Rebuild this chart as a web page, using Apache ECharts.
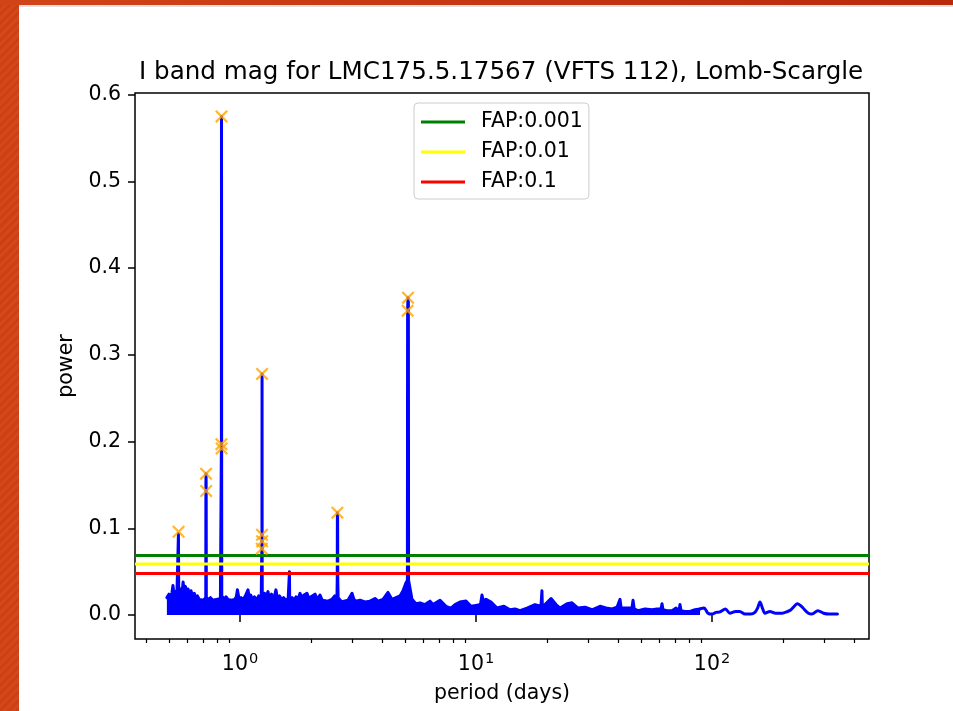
<!DOCTYPE html>
<html>
<head>
<meta charset="utf-8">
<script src="https://cdn.jsdelivr.net/npm/echarts@6/dist/echarts.min.js"></script>
<style>
html,body{margin:0;padding:0;width:953px;height:711px;overflow:hidden;}
body{background:repeating-linear-gradient(135deg,#d3471b 0px,#d3471b 3px,#cb4014 3px,#cb4014 6px);}
#topband{position:absolute;left:0;top:0;width:953px;height:5px;background:linear-gradient(90deg,#d04518,#b82a0c);}
#paper{position:absolute;left:19px;top:5px;width:934px;height:706px;background:#fff;border-top:2px solid #e0e0e0;box-sizing:border-box;}
#chart{position:absolute;left:0;top:0;width:953px;height:711px;}
</style>
</head>
<body>
<div id="topband"></div>
<div id="paper"></div>
<div id="chart"></div>
<script>
// ---------- data ----------
const chartTitle = 'I band mag for LMC175.5.17567 (VFTS 112), Lomb-Scargle';
const xName = 'period (days)';
const yName = 'power';

// dense part of the periodogram (period in days, power)
const densePeriod = [
  0.490,0.500,0.508,0.515,0.520,0.526,0.533,0.540,0.546,0.548,
  0.5485,0.5495,0.550,0.552,0.560,0.568,0.574,0.580,0.587,0.595,
  0.602,0.612,0.620,0.630,0.640,0.650,0.660,0.672,0.685,0.700,
  0.712,0.716,0.717,0.718,0.719,0.720,0.724,0.735,0.750,0.765,
  0.780,0.795,0.810,0.826,0.833,0.834,0.835,0.836,0.837,0.844,
  0.858,0.872,0.889,0.905,0.920,0.935,0.950,0.965,0.975,0.990,
  1.010,1.030,1.050,1.070,1.081,1.095,1.110,1.130,1.150,1.170,
  1.200,1.230,1.236,1.237,1.239,1.240,1.241,1.243,1.250,1.270,
  1.290,1.314,1.330,1.360,1.380,1.400,1.420,1.440,1.470,1.500,
  1.530,1.560,1.600,1.618,1.620,1.622,1.624,1.640,1.660,1.700,
  1.727,1.760,1.796,1.830,1.867,1.922,1.960,2.000,2.079,2.130,
  2.183,2.230,2.270,2.360,2.450,2.520,2.575,2.582,2.586,2.592,
  2.596,2.605,2.653,2.700,2.759,2.800,2.869,2.983,3.040,3.101,
  3.225,3.386,3.554,3.733,3.844,4.036,4.238,4.406,4.581,4.764,
  4.905,5.050,5.120,5.130,5.151,5.170,5.180,5.260,5.356,5.570,
  5.791,6.080,6.384,6.570,7.040,7.460,7.830,8.150,8.550,9.070,
  9.520,10.00,10.45,10.60,10.75,11.03,11.58,12.27,13.14,13.94,
  14.63,15.36,16.45,17.78,18.85,19.00,19.03,19.07,19.10,19.61,
  20.79,21.83,22.70,24.30,25.51,27.05,28.96,31.00,33.53,35.55,
  37.70,39.58,40.30,40.76,41.20,43.20,45.80,46.28,46.80,48.58,
  52.00,55.70,58.50,60.80,61.41,62.00,64.50,67.70,70.40,72.50,
  73.17,73.90,76.80,80.70,84.70,88.96
];
const densePower = [
  0.020,0.024,0.018,0.026,0.034,0.022,0.027,0.020,0.022,0.022,
  0.094,0.096,0.030,0.024,0.030,0.025,0.038,0.027,0.033,0.025,
  0.030,0.024,0.028,0.021,0.025,0.019,0.022,0.018,0.020,0.017,
  0.019,0.020,0.150,0.163,0.143,0.020,0.020,0.018,0.020,0.017,
  0.019,0.018,0.020,0.019,0.020,0.197,0.575,0.192,0.022,0.022,
  0.018,0.021,0.018,0.020,0.017,0.019,0.018,0.021,0.029,0.019,
  0.020,0.018,0.021,0.019,0.029,0.020,0.023,0.018,0.021,0.017,
  0.022,0.019,0.019,0.0765,0.0925,0.278,0.085,0.021,0.021,0.025,
  0.020,0.027,0.020,0.024,0.019,0.022,0.029,0.019,0.022,0.018,
  0.020,0.017,0.019,0.018,0.050,0.048,0.018,0.018,0.020,0.017,
  0.021,0.018,0.025,0.020,0.023,0.025,0.019,0.021,0.024,0.018,
  0.023,0.017,0.019,0.016,0.018,0.022,0.020,0.040,0.118,0.115,
  0.040,0.020,0.020,0.015,0.016,0.014,0.017,0.025,0.018,0.016,
  0.017,0.015,0.016,0.019,0.016,0.018,0.026,0.018,0.020,0.022,
  0.028,0.037,0.040,0.351,0.366,0.360,0.040,0.030,0.018,0.013,
  0.014,0.012,0.016,0.012,0.017,0.010,0.008,0.012,0.015,0.016,
  0.010,0.011,0.012,0.023,0.016,0.018,0.015,0.008,0.010,0.006,
  0.007,0.005,0.008,0.012,0.010,0.010,0.028,0.027,0.010,0.012,
  0.019,0.012,0.008,0.013,0.014,0.008,0.009,0.006,0.010,0.008,
  0.007,0.009,0.008,0.018,0.008,0.008,0.008,0.017,0.007,0.005,
  0.007,0.006,0.007,0.007,0.013,0.006,0.005,0.005,0.008,0.005,
  0.012,0.005,0.004,0.004,0.006,0.007
];

// long-period tail of the periodogram
const tailPeriod = [88.96,92.5,96.2,100,104,108.1,114,119,126,131,
  138,146,152,156,159.7,164,167.7,176,186,198,
  209,216,223,230,237,243,256,265,281,297,313,340];
const tailPower = [0.007,0.008,0.002,0.001,0.003,0.0035,0.007,0.002,0.004,0.004,
  0.001,0.001,0.003,0.008,0.015,0.007,0.002,0.004,0.002,0.002,
  0.004,0.006,0.010,0.013,0.011,0.008,0.002,0.001,0.005,0.002,0.001,0.001];

// detected peaks (orange x markers)
const peakPeriod = [0.5495,0.718,0.719,0.835,0.834,0.836,1.240,1.239,1.241,1.237,2.586,5.151,5.130];
const peakPower  = [0.096,0.163,0.143,0.575,0.197,0.192,0.278,0.0925,0.085,0.0765,0.118,0.366,0.351];

// false alarm probability levels
const fapNames  = ['FAP:0.001','FAP:0.01','FAP:0.1'];
const fapLevels = [0.0686,0.0587,0.0478];

// axes
const xMin = 0.359, xMax = 462.6;
const yMin = -0.0277, yMax = 0.602;
const xMajorTicks = [1,10,100];
const xMinorTicks = [0.4,0.5,0.6,0.7,0.8,0.9,2,3,4,5,6,7,8,9,20,30,40,50,60,70,80,90,200,300,400];
const yTicks = [0,0.1,0.2,0.3,0.4,0.5,0.6];

// ---------- styles ----------
const FONT = 'DejaVu Sans';
const fapColors = ['#008000','#ffff00','#ff0000'];
const BLUE = '#0000ff';
const ORANGE = '#ffa500';
const X_PATH = 'path://M0,1.2L1.2,0L5,3.8L8.8,0L10,1.2L6.2,5L10,8.8L8.8,10L5,6.2L1.2,10L0,8.8L3.8,5Z';

const zip = (a,b) => a.map((v,i)=>[v,b[i]]);

const chart = echarts.init(document.getElementById('chart'), null, {renderer:'canvas'});

const series = [
  {
    type:'line', name:'dense', data: zip(densePeriod,densePower),
    symbol:'none', z:2, silent:true,
    lineStyle:{color:BLUE,width:3,join:'round',cap:'round'},
    areaStyle:{color:BLUE,opacity:1}
  },
  {
    type:'line', name:'tail', data: zip(tailPeriod,tailPower),
    symbol:'none', z:2, smooth:0.3, silent:true,
    lineStyle:{color:BLUE,width:3,join:'round',cap:'round'}
  }
];
fapNames.forEach((n,i)=>{
  series.push({
    type:'line', name:n, data:[[xMin,fapLevels[i]],[xMax,fapLevels[i]]],
    symbol:'none', z:3, silent:true, color:fapColors[i],
    lineStyle:{color:fapColors[i],width:3}
  });
});
series.push({
  type:'scatter', name:'peaks', data: zip(peakPeriod,peakPower),
  symbol:X_PATH, symbolSize:13, z:5, silent:true,
  itemStyle:{color:ORANGE}
});

const option = {
  animation:false,
  textStyle:{fontFamily:FONT},
  title:{
    text:chartTitle, left:139, top:60, padding:0,
    textStyle:{fontFamily:FONT,fontSize:24.6,fontWeight:'normal',color:'#000'}
  },
  legend:{
    data:fapNames, orient:'vertical', left:414, top:103,
    padding:[7,6,5,7], itemWidth:44, itemHeight:3, itemGap:6, icon:'rect',
    selectedMode:false,
    backgroundColor:'rgba(255,255,255,0.8)', borderColor:'#cccccc', borderWidth:1, borderRadius:4,
    textStyle:{fontFamily:FONT,fontSize:20.5,color:'#000',lineHeight:24,padding:[0,0,0,11]}
  },
  grid:{left:135,right:84,top:93,bottom:72,show:true,borderColor:'#000',borderWidth:1.5,backgroundColor:'transparent'},
  xAxis:[
    {
      type:'log', logBase:10, min:xMin, max:xMax, position:'bottom',
      axisLine:{show:false}, splitLine:{show:false},
      axisTick:{show:true, customValues:xMajorTicks, length:7, lineStyle:{color:'#000',width:1.5}},
      axisLabel:{
        customValues:xMajorTicks, margin:13, color:'#000',
        formatter:(v)=>'{b|10}{s|' + Math.round(Math.log10(v)) + '}',
        rich:{
          b:{fontFamily:FONT,fontSize:20.5,color:'#000',lineHeight:26},
          s:{fontFamily:FONT,fontSize:14.5,color:'#000',verticalAlign:'top',padding:[0,0,0,1]}
        }
      },
      name:xName, nameLocation:'middle', nameGap:44,
      nameTextStyle:{fontFamily:FONT,fontSize:20.5,color:'#000'}
    },
    {
      type:'log', logBase:10, min:xMin, max:xMax, position:'bottom', offset:0,
      axisLine:{show:false}, splitLine:{show:false},
      axisTick:{show:true, customValues:xMinorTicks, length:4, lineStyle:{color:'#000',width:1.2}},
      axisLabel:{show:false}
    }
  ],
  yAxis:{
    type:'value', min:yMin, max:yMax,
    axisLine:{show:false}, splitLine:{show:false},
    axisTick:{show:true, customValues:yTicks, length:7, lineStyle:{color:'#000',width:1.5}},
    axisLabel:{customValues:yTicks, margin:14, color:'#000', fontFamily:FONT, fontSize:20.5,
      formatter:(v)=>v.toFixed(1)},
    name:yName, nameLocation:'middle', nameGap:46,
    nameTextStyle:{fontFamily:FONT,fontSize:20.5,color:'#000'}
  },
  series:series
};
chart.setOption(option);
</script>
</body>
</html>
